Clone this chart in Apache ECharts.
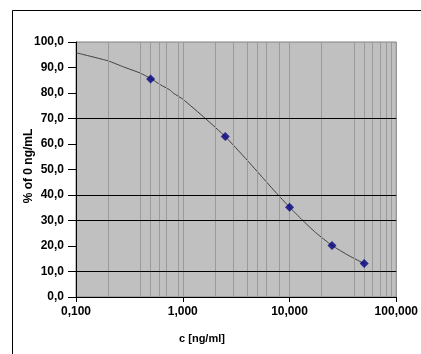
<!DOCTYPE html>
<html>
<head>
<meta charset="utf-8">
<script src="https://cdn.jsdelivr.net/npm/echarts@6/dist/echarts.min.js"></script>
<style>html,body{margin:0;padding:0;background:#fff}#c{width:421px;height:354px}</style>
</head>
<body>
<div id="c"></div>
<script>
// measured standards
var pointX = [0.5, 2.5, 10, 25, 50];
var pointY = [85.5, 62.9, 35.2, 20.2, 13.1];
// fitted curve
var curveX = [0.1, 0.2, 0.28, 0.4, 0.5, 0.62, 0.75, 0.82, 1.0, 1.63, 2.5, 3.9, 5.6, 7.4, 10, 13.1, 17.5, 25, 36, 50];
var curveY = [95.8, 92.6, 90.2, 87.8, 85.7, 83.2, 81.3, 79.9, 77.6, 70.0, 62.9, 54.2, 46.8, 41.1, 35.2, 30.3, 25.3, 20.2, 16.2, 13.1];
// gridlines visible in the picture
var vGrid = [0.2, 0.4, 0.5, 0.6, 0.7, 0.9, 1, 2, 3, 4, 5, 6, 8, 10, 20, 40, 50, 60, 70, 80, 90];
var hGrid = [10, 30, 40, 70];
var xTitle = 'c [ng/ml]';
var yTitle = '% of 0 ng/mL';

var chart = echarts.init(document.getElementById('c'), null, {renderer: 'canvas'});
var tickFont = {fontFamily: 'Liberation Sans', fontWeight: 'bold', fontSize: 12, color: '#000'};
var markData = vGrid.map(function (v) { return {xAxis: v, lineStyle: {color: '#9a9a9a', width: 1, type: 'solid'}}; })
  .concat(hGrid.map(function (v) { return {yAxis: v, lineStyle: {color: '#000', width: 1, type: 'solid'}}; }));

chart.setOption({
  animation: false,
  backgroundColor: '#fff',
  grid: {left: 76, right: 23, top: 42, bottom: 57, show: true, backgroundColor: '#c0c0c0', borderColor: '#808080', borderWidth: 1},
  xAxis: {
    type: 'log', logBase: 10, min: 0.1, max: 100,
    axisLine: {show: true, lineStyle: {color: '#000', width: 1}},
    axisTick: {show: true, inside: false, length: 5, lineStyle: {color: '#000'}},
    minorTick: {show: false},
    splitLine: {show: false},
    axisLabel: Object.assign({margin: 9, formatter: function (v) { return v.toFixed(3).replace('.', ','); }}, tickFont)
  },
  yAxis: {
    type: 'value', min: 0, max: 100, interval: 10,
    axisLine: {show: true, lineStyle: {color: '#000', width: 1}},
    axisTick: {show: true, inside: false, length: 8, lineStyle: {color: '#000'}},
    splitLine: {show: false},
    axisLabel: Object.assign({margin: 12, formatter: function (v) { return v.toFixed(1).replace('.', ','); }}, tickFont)
  },
  series: [
    {
      type: 'line', smooth: 0.15, symbol: 'none', z: 2,
      data: curveX.map(function (x, i) { return [x, curveY[i]]; }),
      lineStyle: {color: '#404040', width: 1},
      markLine: {silent: true, symbol: ['none', 'none'], label: {show: false}, animation: false, data: markData}
    },
    {
      type: 'scatter', symbol: 'diamond', symbolSize: 9, z: 5,
      itemStyle: {color: '#000080'},
      data: pointX.map(function (x, i) { return [x, pointY[i]]; })
    }
  ],
  graphic: [
    {type: 'rect', shape: {x: 12.5, y: 10.5, width: 700, height: 700}, style: {fill: 'none', stroke: '#000', lineWidth: 1}, silent: true, z: -1},
    {type: 'text', x: 202, y: 339, style: {text: xTitle, font: 'bold 11px "Liberation Sans"', fill: '#000', textAlign: 'center', textVerticalAlign: 'middle'}},
    {type: 'text', x: 29, y: 166, rotation: Math.PI / 2, style: {text: yTitle, font: 'bold 12px "Liberation Sans"', fill: '#000', textAlign: 'center', textVerticalAlign: 'middle'}}
  ]
});
</script>
</body>
</html>
